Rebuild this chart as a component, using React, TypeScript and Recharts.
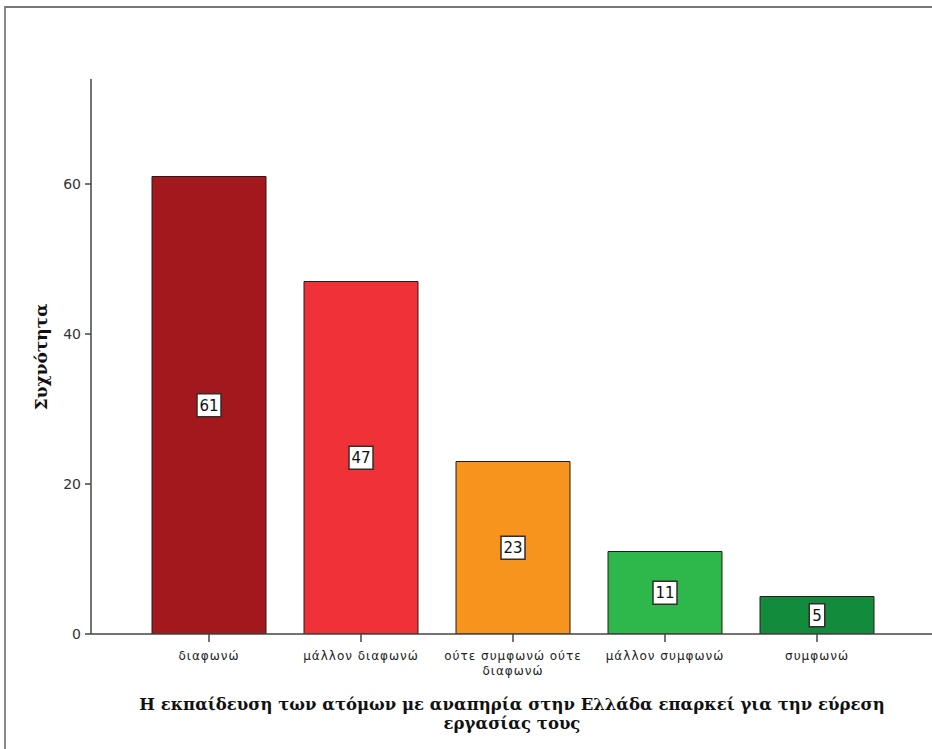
import React from "react";
import { BarChart, Bar, XAxis, YAxis, Cell, LabelList } from "recharts";

const categories = ["διαφωνώ", "μάλλον διαφωνώ", "ούτε συμφωνώ ούτε διαφωνώ", "μάλλον συμφωνώ", "συμφωνώ"];
const counts = [61, 47, 23, 11, 5];
const barColors = ["#A3181D", "#EE3238", "#F7941E", "#2EB84B", "#138B3D"];
const yTicks = [0, 20, 40, 60];
const yTitle = "Συχνότητα";
const xTitleLines = ["Η εκπαίδευση των ατόμων με αναπηρία στην Ελλάδα επαρκεί για την εύρεση", "εργασίας τους"];

const data = categories.map((c, i) => ({ name: c, value: counts[i] }));

function wrap(label: string, maxChars: number): string[] {
  const words = label.split(" ");
  const lines: string[] = [];
  let cur = "";
  for (const w of words) {
    const next = cur ? cur + " " + w : w;
    if (next.length > maxChars && cur) {
      lines.push(cur);
      cur = w;
    } else cur = next;
  }
  if (cur) lines.push(cur);
  return lines;
}

const XTick = (props: any) => {
  const { x, y, payload } = props;
  const lines = wrap(String(payload.value), 18);
  return (
    <g>
      {lines.map((l, i) => (
        <text
          key={i}
          x={x}
          y={y + 16 + i * 15}
          textAnchor="middle"
          fontFamily="DejaVu Sans"
          fontSize={12}
          letterSpacing={1}
          fill="#222"
        >
          {l}
        </text>
      ))}
    </g>
  );
};

const YTick = (props: any) => {
  const { x, y, payload } = props;
  return (
    <text x={x - 2} y={y + 5} textAnchor="end" fontFamily="DejaVu Sans" fontSize={14} fill="#333">
      {payload.value}
    </text>
  );
};

const ValueLabel = (props: any) => {
  const { x, y, width, height, value } = props;
  const cx = x + width / 2;
  const cy = y + height / 2;
  const s = String(value);
  const w = s.length * 8.5 + 7;
  const h = 23;
  return (
    <g>
      <rect x={cx - w / 2} y={cy - h / 2} width={w} height={h} fill="#fff" stroke="#3a2a2a" strokeWidth={1.5} />
      <text x={cx} y={cy + 5.5} textAnchor="middle" fontFamily="DejaVu Sans" fontSize={15} fill="#111">
        {s}
      </text>
    </g>
  );
};

export default function App() {
  return (
    <div style={{ position: "absolute", left: 0, top: 0, width: 932, height: 749, overflow: "hidden", background: "#fff" }}>
      <div
        style={{
          position: "absolute",
          left: 4,
          top: 6,
          width: 940,
          height: 760,
          borderTop: "2px solid #777",
          borderLeft: "2px solid #888",
          boxSizing: "border-box",
        }}
      />
      <div style={{ position: "absolute", left: 0, top: 0 }}>
        <BarChart
          width={935}
          height={749}
          data={data}
          margin={{ top: 79, right: 0, left: 0, bottom: 55 }}
        >
          <YAxis
            type="number"
            domain={[0, 74]}
            ticks={yTicks}
            width={91}
            axisLine={{ stroke: "#444", strokeWidth: 1.5 }}
            tickLine={{ stroke: "#444", strokeWidth: 1.5 }}
            tickSize={6}
            tick={<YTick />}
            allowDataOverflow
          />
          <XAxis
            dataKey="name"
            type="category"
            height={60}
            padding={{ left: 42, right: 42 }}
            axisLine={{ stroke: "#444", strokeWidth: 1.5 }}
            tickLine={{ stroke: "#444", strokeWidth: 1.5 }}
            tickSize={8}
            tick={<XTick />}
            interval={0}
          />
          <Bar dataKey="value" barSize={114} isAnimationActive={false} stroke="#2a1a1a" strokeWidth={1}>
            {data.map((d, i) => (
              <Cell key={i} fill={barColors[i]} />
            ))}
            <LabelList dataKey="value" content={<ValueLabel />} />
          </Bar>
        </BarChart>
      </div>
      <svg width={932} height={749} style={{ position: "absolute", left: 0, top: 0, pointerEvents: "none" }}>
        <text
          transform="translate(47, 357) rotate(-90)"
          textAnchor="middle"
          fontFamily="DejaVu Serif"
          fontWeight="bold"
          fontSize={17}
          fill="#111"
        >
          {yTitle}
        </text>
        {xTitleLines.map((l, i) => (
          <text
            key={i}
            x={512}
            y={710 + i * 19}
            textAnchor="middle"
            fontFamily="DejaVu Serif"
            fontWeight="bold"
            fontSize={16.5}
            fill="#111"
          >
            {l}
          </text>
        ))}
      </svg>
    </div>
  );
}
